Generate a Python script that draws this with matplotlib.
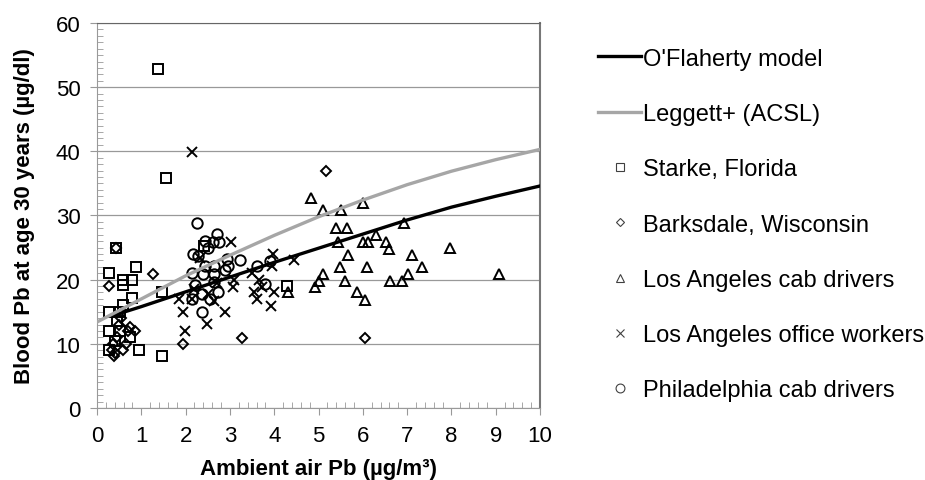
import matplotlib.pyplot as plt
from matplotlib.ticker import MultipleLocator

plt.rcParams['font.family'] = ['Liberation Sans', 'DejaVu Sans']

# model curves
model_x = [0.45, 1, 2, 3, 4, 5, 6, 7, 8, 9, 10]
oflaherty_y = [14.6, 15.8, 18.1, 20.4, 22.7, 24.9, 27.1, 29.3, 31.3, 33.0, 34.6]
leggett_x = [0, 1, 2, 3, 4, 5, 6, 7, 8, 9, 10]
leggett_y = [13.4, 17.0, 20.6, 23.8, 26.9, 29.8, 32.4, 34.8, 36.9, 38.7, 40.3]

# observations
starke_x = [1.38, 1.56, 0.43, 0.28, 0.88, 0.58, 0.80, 0.59, 0.80, 1.47, 0.58, 0.28, 0.52,
            0.28, 0.52, 0.74, 0.26, 0.94, 1.47, 4.29, 2.42, 0.45, 0.40]
starke_y = [52.9, 35.9, 24.9, 21.0, 22.0, 19.9, 19.9, 19.1, 17.1, 18.0, 16.1, 14.9, 14.9,
            12.0, 12.0, 11.0, 9.1, 9.1, 8.05, 19.0, 25.2, 13.5, 10.5]

barks_x = [0.43, 0.26, 1.26, 0.86, 0.74, 0.59, 0.38, 0.33, 1.93, 3.27, 5.18, 6.06,
           0.35, 0.45, 0.50, 0.65, 0.70, 0.40, 0.55]
barks_y = [25.0, 19.0, 20.9, 12.0, 12.6, 9.1, 8.05, 9.0, 10.0, 10.9, 37.0, 10.9,
           10.0, 11.0, 13.0, 10.0, 12.0, 8.5, 14.0]

lacab_x = [4.82, 5.09, 5.50, 6.01, 5.40, 5.64, 6.94, 5.45, 6.01, 6.11, 6.30, 6.52, 6.60,
           5.66, 7.97, 7.12, 5.49, 6.09, 7.33, 5.11, 7.03, 9.08, 5.02, 5.60, 6.61, 6.89,
           4.92, 5.86, 6.05, 4.32]
lacab_y = [32.8, 30.9, 30.9, 31.9, 28.0, 28.0, 28.9, 25.9, 25.9, 25.9, 26.9, 25.9, 24.8,
           23.8, 24.9, 23.8, 22.0, 22.0, 22.0, 20.9, 20.9, 20.9, 19.8, 19.8, 19.8, 19.8,
           18.8, 18.0, 16.9, 18.0]

laoff_x = [2.14, 3.02, 1.84, 1.95, 1.99, 2.48, 2.89, 3.08, 3.09, 3.55, 3.60, 3.93, 4.00,
           3.98, 3.95, 4.45, 3.50, 3.65, 3.72, 2.14, 2.63, 2.33, 2.50, 2.70, 2.20]
laoff_y = [39.9, 25.9, 17.0, 14.9, 12.0, 13.1, 14.9, 18.9, 19.9, 18.0, 17.0, 15.9, 18.0,
           24.0, 22.2, 23.1, 21.0, 19.9, 18.8, 17.0, 16.7, 23.4, 17.8, 19.5, 18.5]

phil_x = [2.25, 2.70, 2.44, 2.76, 2.61, 2.29, 2.17, 2.93, 3.22, 2.44, 2.63, 2.96, 2.14,
          2.40, 2.63, 3.60, 3.91, 2.21, 2.63, 3.79, 2.36, 2.74, 2.14, 2.55, 2.36, 2.50, 2.90]
phil_y = [28.9, 27.1, 26.1, 25.9, 25.9, 23.7, 24.0, 23.2, 23.0, 22.2, 22.2, 22.2, 21.0,
          20.9, 20.9, 22.2, 22.9, 19.1, 19.6, 19.3, 17.8, 18.0, 17.0, 17.0, 14.9, 25.0, 21.5]

fig = plt.figure(figsize=(9.25, 4.81), dpi=100)
ax = fig.add_axes([0.1049, 0.1497, 0.4789, 0.8004])

ax.plot(model_x, oflaherty_y, color='black', lw=2.4, zorder=4, label="O'Flaherty model")
ax.plot(leggett_x, leggett_y, color='#a6a6a6', lw=2.4, zorder=4, label='Leggett+ (ACSL)')

mk = dict(linestyle='none', mfc='none', mec='black', zorder=3)
ax.plot(starke_x, starke_y, marker='s', ms=7, mew=1.4, label='Starke, Florida', **mk)
ax.plot(barks_x, barks_y, marker='D', ms=5, mew=1.4, label='Barksdale, Wisconsin', **mk)
ax.plot(lacab_x, lacab_y, marker='^', ms=7.5, mew=1.4, label='Los Angeles cab drivers', **mk)
ax.plot(laoff_x, laoff_y, marker='x', ms=7, mew=1.4, label='Los Angeles office workers', **mk)
ax.plot(phil_x, phil_y, marker='o', ms=7.5, mew=1.4, label='Philadelphia cab drivers', **mk)

ax.set_xlim(0, 10)
ax.set_ylim(0, 60)
ax.xaxis.set_major_locator(MultipleLocator(1))
ax.xaxis.set_minor_locator(MultipleLocator(0.2))
ax.yaxis.set_major_locator(MultipleLocator(10))
ax.yaxis.set_minor_locator(MultipleLocator(1))
ax.tick_params(which='major', direction='out', length=5, color='#999999', labelsize=16, pad=7)
ax.tick_params(which='minor', direction='in', length=4, color='#999999')
ax.grid(axis='y', which='major', color='#999999', lw=0.9)
ax.set_axisbelow(True)

for s in ['left', 'bottom']:
    ax.spines[s].set_color('#999999')
ax.spines['top'].set_color('#666666')
ax.spines['right'].set_color('#777777')
ax.spines['right'].set_linewidth(1.5)

ax.set_xlabel('Ambient air Pb (µg/m³)', fontsize=16, fontweight='bold', labelpad=9)
ax.set_ylabel('Blood Pb at age 30 years (µg/dl)', fontsize=16, fontweight='bold', labelpad=15)

leg = ax.legend(loc='upper left', bbox_to_anchor=(0.624, 0.943), bbox_transform=fig.transFigure,
                frameon=False, fontsize=17, labelspacing=1.41, handlelength=1.8,
                handletextpad=0.1, markerscale=0.85)
for h in leg.legend_handles[2:]:
    h.set_markeredgecolor('#404040')
    h.set_markeredgewidth(0.8)

fig.savefig('out.png', dpi=100)
